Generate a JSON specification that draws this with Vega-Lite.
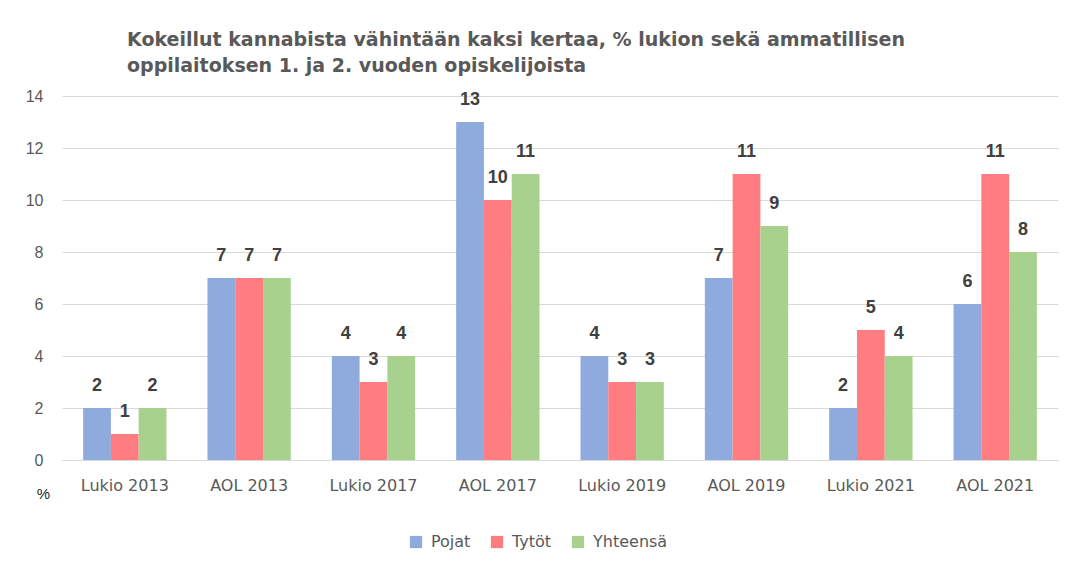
{
  "$schema": "https://vega.github.io/schema/vega-lite/v6.json",
  "autosize": "none",
  "width": 996,
  "height": 364,
  "padding": {"left": 62, "top": 96, "right": 11, "bottom": 113},
  "background": "white",
  "title": {
    "text": ["Kokeillut kannabista vähintään kaksi kertaa, %  lukion sekä ammatillisen", "oppilaitoksen 1. ja 2. vuoden opiskelijoista"],
    "anchor": "start",
    "frame": "group",
    "dx": 65,
    "offset": 12,
    "font": "DejaVu Sans",
    "fontSize": 19,
    "fontWeight": "bold",
    "color": "#595959",
    "lineHeight": 26
  },
  "data": {
    "values": [
      {"ryhma": "Lukio 2013", "sarja": "Pojat", "arvo": 2},
      {"ryhma": "Lukio 2013", "sarja": "Tytöt", "arvo": 1},
      {"ryhma": "Lukio 2013", "sarja": "Yhteensä", "arvo": 2},
      {"ryhma": "AOL 2013", "sarja": "Pojat", "arvo": 7},
      {"ryhma": "AOL 2013", "sarja": "Tytöt", "arvo": 7},
      {"ryhma": "AOL 2013", "sarja": "Yhteensä", "arvo": 7},
      {"ryhma": "Lukio 2017", "sarja": "Pojat", "arvo": 4},
      {"ryhma": "Lukio 2017", "sarja": "Tytöt", "arvo": 3},
      {"ryhma": "Lukio 2017", "sarja": "Yhteensä", "arvo": 4},
      {"ryhma": "AOL 2017", "sarja": "Pojat", "arvo": 13},
      {"ryhma": "AOL 2017", "sarja": "Tytöt", "arvo": 10},
      {"ryhma": "AOL 2017", "sarja": "Yhteensä", "arvo": 11},
      {"ryhma": "Lukio 2019", "sarja": "Pojat", "arvo": 4},
      {"ryhma": "Lukio 2019", "sarja": "Tytöt", "arvo": 3},
      {"ryhma": "Lukio 2019", "sarja": "Yhteensä", "arvo": 3},
      {"ryhma": "AOL 2019", "sarja": "Pojat", "arvo": 7},
      {"ryhma": "AOL 2019", "sarja": "Tytöt", "arvo": 11},
      {"ryhma": "AOL 2019", "sarja": "Yhteensä", "arvo": 9},
      {"ryhma": "Lukio 2021", "sarja": "Pojat", "arvo": 2},
      {"ryhma": "Lukio 2021", "sarja": "Tytöt", "arvo": 5},
      {"ryhma": "Lukio 2021", "sarja": "Yhteensä", "arvo": 4},
      {"ryhma": "AOL 2021", "sarja": "Pojat", "arvo": 6},
      {"ryhma": "AOL 2021", "sarja": "Tytöt", "arvo": 11},
      {"ryhma": "AOL 2021", "sarja": "Yhteensä", "arvo": 8}
    ]
  },
  "encoding": {
    "x": {
      "field": "ryhma",
      "type": "nominal",
      "sort": null,
      "scale": {"paddingInner": 0.33, "paddingOuter": 0.17},
      "axis": {
        "title": null,
        "labelAngle": 0,
        "labelFont": "DejaVu Sans",
        "labelFontSize": 16,
        "labelColor": "#595959",
        "labelPadding": 17,
        "ticks": false,
        "domainColor": "#D9D9D9",
        "domainWidth": 1,
        "grid": false
      }
    },
    "xOffset": {"field": "sarja", "type": "nominal", "sort": ["Pojat", "Tytöt", "Yhteensä"]},
    "y": {
      "field": "arvo",
      "type": "quantitative",
      "scale": {"domain": [0, 14], "nice": false},
      "axis": {
        "values": [0, 2, 4, 6, 8, 10, 12, 14],
        "title": "%",
        "titleAngle": 0,
        "titleX": -19,
        "titleY": 397,
        "titleAlign": "center",
        "titleBaseline": "middle",
        "titleFont": "Liberation Sans",
        "titleFontSize": 15,
        "titleFontWeight": "normal",
        "titleColor": "#262626",
        "labelFont": "Liberation Sans",
        "labelFontSize": 16,
        "labelColor": "#595959",
        "labelPadding": 19,
        "ticks": false,
        "domain": false,
        "gridColor": "#D9D9D9",
        "gridWidth": 1
      }
    }
  },
  "layer": [
    {
      "mark": {"type": "bar"},
      "encoding": {
        "color": {
          "field": "sarja",
          "type": "nominal",
          "sort": ["Pojat", "Tytöt", "Yhteensä"],
          "scale": {"domain": ["Pojat", "Tytöt", "Yhteensä"], "range": ["#8FAADC", "#FF7C80", "#A9D18E"]},
          "legend": {
            "title": null,
            "orient": "none",
            "direction": "horizontal",
            "legendX": 346,
            "legendY": 438,
            "symbolType": "square",
            "symbolSize": 150,
            "symbolStrokeWidth": 0,
            "labelFont": "DejaVu Sans",
            "labelFontSize": 16,
            "labelColor": "#595959",
            "labelOffset": 7,
            "columnPadding": 18
          }
        }
      }
    },
    {
      "mark": {
        "type": "text",
        "dy": -22,
        "baseline": "middle",
        "font": "Liberation Sans",
        "fontSize": 18,
        "fontWeight": "bold",
        "color": "#404040"
      },
      "encoding": {
        "text": {"field": "arvo", "type": "quantitative"}
      }
    }
  ],
  "config": {
    "view": {"stroke": null}
  }
}
